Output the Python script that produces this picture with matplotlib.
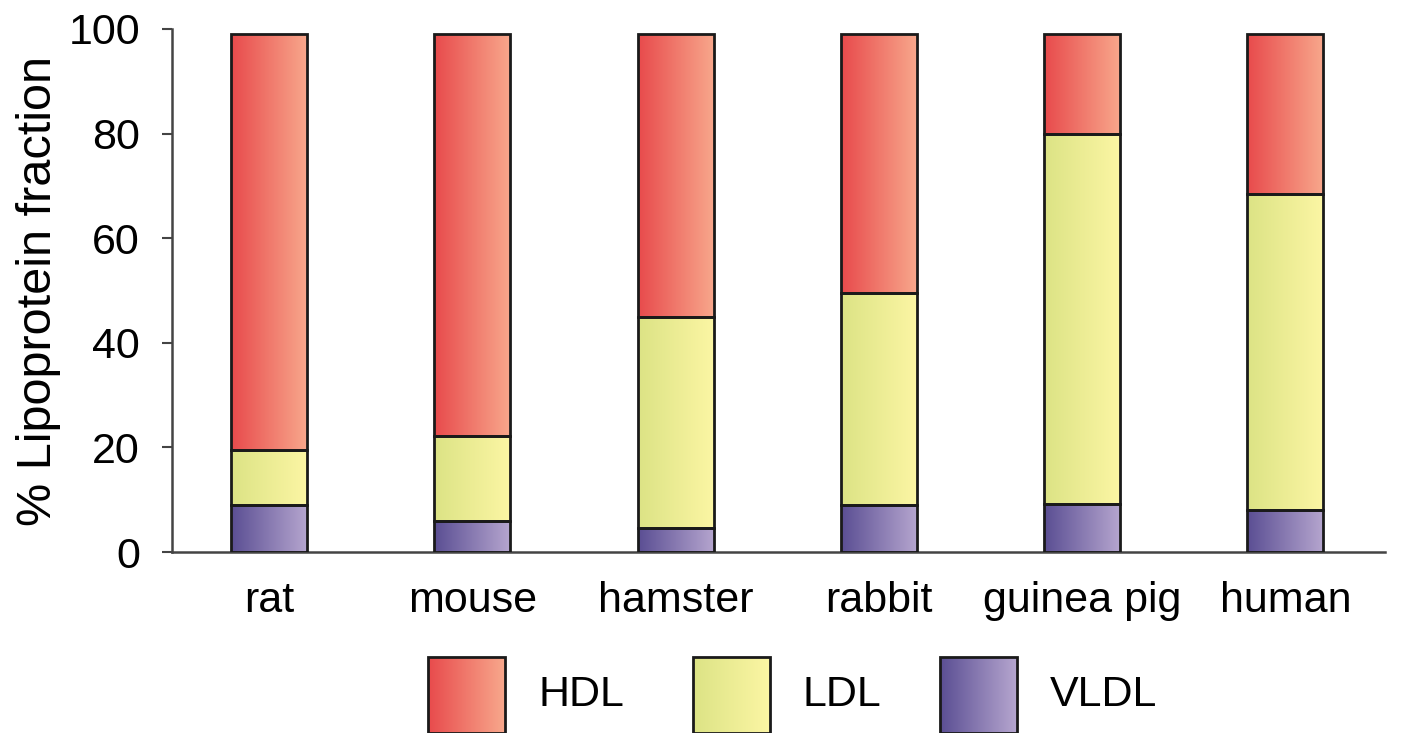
import numpy as np
import matplotlib.pyplot as plt
from matplotlib.colors import LinearSegmentedColormap
from matplotlib.patches import Rectangle

plt.rcParams['font.family'] = ['Liberation Sans', 'DejaVu Sans']

# data (percent of lipoprotein fraction)
species = ['rat', 'mouse', 'hamster', 'rabbit', 'guinea pig', 'human']
vldl = [9.0, 6.0, 4.6, 9.0, 9.2, 8.0]
ldl = [10.5, 16.2, 40.4, 40.5, 70.8, 60.5]
hdl = [79.5, 76.8, 54.0, 49.5, 19.0, 30.5]
labels = ['HDL', 'LDL', 'VLDL']

# left -> right gradient colours for each fraction
grad = {
    'HDL': ('#e84a4c', '#f8a88c'),
    'LDL': ('#dce385', '#fcf6a4'),
    'VLDL': ('#5a4e93', '#b6a6cf'),
}
cmaps = {k: LinearSegmentedColormap.from_list(k, v) for k, v in grad.items()}
ramp = np.linspace(0, 1, 256).reshape(1, -1)

fig = plt.figure(figsize=(14.03, 7.33), dpi=100)
ax = fig.add_axes([172 / 1403, 1 - 552 / 733, 1213 / 1403, 523 / 733])

x = np.arange(len(species))
width = 0.374


def grad_bars(ax, xs, heights, bottoms, name):
    bars = ax.bar(xs, heights, width, bottom=bottoms, facecolor='none',
                  edgecolor='#1a1a1a', linewidth=2.0, zorder=3)
    for b in bars:
        im = ax.imshow(ramp, cmap=cmaps[name], aspect='auto',
                       extent=(b.get_x(), b.get_x() + b.get_width(),
                               b.get_y(), b.get_y() + b.get_height()),
                       zorder=2, interpolation='bilinear')
        im.set_clip_path(b)
    return bars


bottom = np.zeros(len(species))
for name, vals in [('VLDL', vldl), ('LDL', ldl), ('HDL', hdl)]:
    grad_bars(ax, x, vals, bottom, name)
    bottom = bottom + np.array(vals)

ax.set_xlim(-0.477, 5.49)
ax.set_ylim(0, 100)
ax.set_yticks([0, 20, 40, 60, 80, 100])
ax.set_xticks(x)
ax.set_xticklabels(species, fontsize=31)
ax.tick_params(axis='x', length=0, pad=21)
ax.tick_params(axis='y', length=7, width=1.5, labelsize=31, pad=16,
               color='#444444')
ax.spines['top'].set_visible(False)
ax.spines['right'].set_visible(False)
for s in ['left', 'bottom']:
    ax.spines[s].set_linewidth(1.8)
    ax.spines[s].set_color('#444444')
ax.set_ylabel('% Lipoprotein fraction', fontsize=35, labelpad=5)

# legend built by hand so the swatches carry the same gradients
lax = fig.add_axes([0, 0, 1, 1 - 655 / 733])
lax.axis('off')
box_x = [428, 693, 940]
for bx, name in zip(box_x, labels):
    r = Rectangle((bx, 0), 77, 76, facecolor='none', edgecolor='#1a1a1a',
                  linewidth=2.0, zorder=3)
    lax.add_patch(r)
    im = lax.imshow(ramp, cmap=cmaps[name], aspect='auto',
                    extent=(bx, bx + 77, 0, 76), zorder=2,
                    interpolation='bilinear')
    im.set_clip_path(r)
    lax.text(bx + 110, 38, name, fontsize=31, va='center', ha='left')
lax.set_xlim(0, 1403)
lax.set_ylim(0, 78)

fig.savefig('out.png', dpi=100)
